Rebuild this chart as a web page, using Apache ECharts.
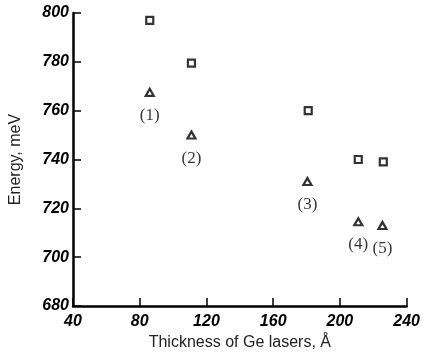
<!DOCTYPE html>
<html><head><meta charset="utf-8">
<script src="https://cdn.jsdelivr.net/npm/echarts@6/dist/echarts.min.js"></script>
<style>html,body{margin:0;padding:0;background:#fff}#c{width:423px;height:356px}</style>
</head><body><div id="c"></div>
<script>
const thickness = [86, 111, 181, 211, 226];
const squareEnergy = [797, 779.5, 760, 740, 739];
const triThickness = [86, 111, 180.5, 211, 225.5];
const triangleEnergy = [767.5, 750, 731, 714.5, 713];
const pointLabels = ['(1)', '(2)', '(3)', '(4)', '(5)'];
const xTicks = [40, 80, 120, 160, 200, 240];
const yTicks = [680, 700, 720, 740, 760, 780, 800];

const tickFont = {fontFamily: 'Liberation Sans', fontWeight: 'bold', fontStyle: 'italic', fontSize: 16, color: '#000'};
const chart = echarts.init(document.getElementById('c'), null, {renderer: 'canvas'});
chart.setOption({
  animation: false,
  backgroundColor: '#fff',
  grid: {left: 65, right: 4, top: 13, bottom: 48},
  xAxis: {
    type: 'value', min: xTicks[0], max: xTicks[xTicks.length - 1], interval: 40,
    name: 'Thickness of Ge lasers, Å', nameLocation: 'middle', nameGap: 29,
    nameTextStyle: {fontFamily: 'Liberation Sans', fontSize: 16, color: '#222'},
    axisLine: {lineStyle: {color: '#000', width: 2.5}},
    axisTick: {inside: true, length: 8, lineStyle: {color: '#000', width: 1.5}},
    axisLabel: Object.assign({margin: 8}, tickFont),
    splitLine: {show: false}
  },
  yAxis: {
    type: 'value', min: yTicks[0], max: yTicks[yTicks.length - 1], interval: 20,
    name: 'Energy, meV', nameLocation: 'middle', nameGap: 49,
    nameTextStyle: {fontFamily: 'Liberation Sans', fontSize: 16, color: '#222'},
    axisLine: {lineStyle: {color: '#000', width: 2.5}},
    axisTick: {inside: true, length: 8, lineStyle: {color: '#000', width: 1.5}},
    axisLabel: Object.assign({margin: 4}, tickFont),
    splitLine: {show: false}
  },
  series: [
    {
      type: 'scatter', symbol: 'rect', symbolSize: 7,
      itemStyle: {color: '#fff', borderColor: '#000', borderWidth: 2.2},
      data: thickness.map((x, i) => [x, squareEnergy[i]])
    },
    {
      type: 'scatter', symbol: 'triangle', symbolSize: [8, 7],
      itemStyle: {color: '#fff', borderColor: '#000', borderWidth: 2.2},
      label: {
        show: true, position: 'bottom', distance: 10,
        formatter: p => pointLabels[p.dataIndex],
        fontFamily: 'Liberation Serif', fontSize: 17, color: '#000'
      },
      data: triThickness.map((x, i) => [x, triangleEnergy[i]])
    }
  ]
});
</script></body></html>
